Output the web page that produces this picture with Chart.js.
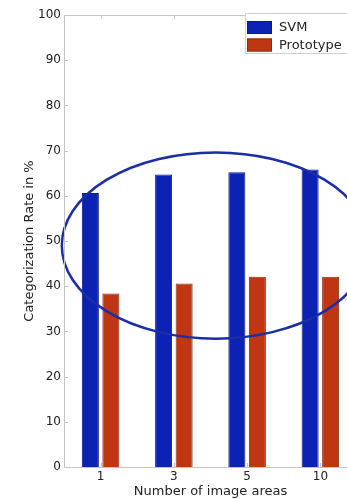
<!DOCTYPE html>
<html>
<head>
<meta charset="utf-8">
<script src="https://cdn.jsdelivr.net/npm/chart.js@4.4.0/dist/chart.umd.min.js"></script>
<style>
html, body { margin: 0; padding: 0; overflow: hidden; background: #fff; }
#wrap { width: 362px; height: 499px; }
</style>
</head>
<body>
<div id="wrap"><canvas id="chart" width="362" height="499"></canvas></div>
<script>
// --- Data ---
const categories = ["1", "3", "5", "10"];
const seriesNames = ["SVM", "Prototype"];
const svmValues = [60.6, 64.7, 65.2, 65.8];
const prototypeValues = [38.4, 40.6, 42.1, 42.1];
const yTicks = [0, 10, 20, 30, 40, 50, 60, 70, 80, 90, 100];

// highlight ellipse in data units (category index, percent)
const ellipseCenter = [1.57, 49];
const ellipseRadius = [2.1, 20.6];

const FONT = "'DejaVu Sans', sans-serif";
const AXIS_COLOR = "#c4c4c4";
const TEXT_COLOR = "#222";

// --- Box, inward ticks, ellipse and legend ---
const framePlugin = {
    id: "frame",
    afterDatasetsDraw(chart) {
        const { ctx, scales: { x, y } } = chart;
        const cx = x.getPixelForValue(ellipseCenter[0]);
        const cy = y.getPixelForValue(ellipseCenter[1]);
        const rx = x.getPixelForValue(ellipseCenter[0] + ellipseRadius[0]) - cx;
        const ry = cy - y.getPixelForValue(ellipseCenter[1] + ellipseRadius[1]);
        ctx.save();
        ctx.beginPath();
        ctx.ellipse(cx, cy, rx, ry, 0, 0, Math.PI * 2);
        ctx.strokeStyle = "#1a2ea6";
        ctx.lineWidth = 2.5;
        ctx.stroke();
        ctx.restore();
    },
    afterDraw(chart) {
        const { ctx, chartArea: a, scales: { x, y } } = chart;
        ctx.save();
        ctx.strokeStyle = AXIS_COLOR;
        ctx.lineWidth = 1;
        ctx.strokeRect(Math.round(a.left) + 0.5, Math.round(a.top) + 0.5,
                       Math.round(a.right - a.left), Math.round(a.bottom - a.top));
        ctx.beginPath();
        y.ticks.forEach((t, i) => {
            const py = Math.round(y.getPixelForTick(i)) + 0.5;
            ctx.moveTo(a.left, py); ctx.lineTo(a.left + 4, py);
        });
        x.ticks.forEach((t, i) => {
            const px = Math.round(x.getPixelForTick(i)) + 0.5;
            ctx.moveTo(px, a.top); ctx.lineTo(px, a.top + 4);
            ctx.moveTo(px, a.bottom); ctx.lineTo(px, a.bottom - 4);
        });
        ctx.stroke();

        // legend
        const lx = 245, ly = 13;
        ctx.fillStyle = "#fff";
        ctx.fillRect(lx, ly, 112, 40);
        ctx.strokeStyle = "#cfcfcf";
        ctx.strokeRect(lx + 0.5, ly + 0.5, 112, 40);
        chart.data.datasets.forEach((ds, i) => {
            const sy = ly + 8 + i * 17.5;
            ctx.fillStyle = ds.backgroundColor;
            ctx.fillRect(lx + 2, sy, 25, 13);
            ctx.strokeStyle = ds.borderColor;
            ctx.strokeRect(lx + 2.5, sy + 0.5, 24, 12);
            ctx.fillStyle = TEXT_COLOR;
            ctx.font = "13px " + FONT;
            ctx.textBaseline = "middle";
            ctx.fillText(ds.label, lx + 34, sy + 7);
        });
        ctx.restore();
    }
};

// --- Chart ---
const ctx = document.getElementById("chart").getContext("2d");
const chart = new Chart(ctx, {
    type: "bar",
    data: {
        labels: categories,
        datasets: [
            {
                label: seriesNames[0],
                data: svmValues,
                backgroundColor: "#0b22b4",
                borderColor: "#0a1a86",
                borderWidth: 1
            },
            {
                label: seriesNames[1],
                data: prototypeValues,
                backgroundColor: "#c03512",
                borderColor: "#8e2a12",
                borderWidth: 1
            }
        ]
    },
    options: {
        responsive: false,
        animation: false,
        layout: { padding: { top: 15, right: 5, left: 0, bottom: 0 } },
        categoryPercentage: 0.56,
        barPercentage: 0.83,
        plugins: {
            legend: { display: false },
            tooltip: { enabled: false }
        },
        scales: {
            x: {
                grid: { display: false, drawTicks: false },
                border: { display: false },
                ticks: { color: TEXT_COLOR, font: { family: FONT, size: 12 }, padding: 3 },
                title: {
                    display: true,
                    text: "Number of image areas",
                    color: TEXT_COLOR,
                    font: { family: FONT, size: 13 },
                    padding: { top: 0, bottom: 0 }
                },
                afterFit: s => { s.height = 32; }
            },
            y: {
                min: 0,
                max: 100,
                afterBuildTicks: s => { s.ticks = yTicks.map(v => ({ value: v })); },
                grid: { display: false, drawTicks: false },
                border: { display: false },
                ticks: { color: TEXT_COLOR, font: { family: FONT, size: 12 }, padding: 3 },
                title: {
                    display: true,
                    text: "Categorization Rate in %",
                    color: TEXT_COLOR,
                    font: { family: FONT, size: 13 },
                    padding: { top: 22, bottom: 0 }
                },
                afterFit: s => { s.width = 64; }
            }
        }
    },
    plugins: [framePlugin]
});
</script>
</body>
</html>
